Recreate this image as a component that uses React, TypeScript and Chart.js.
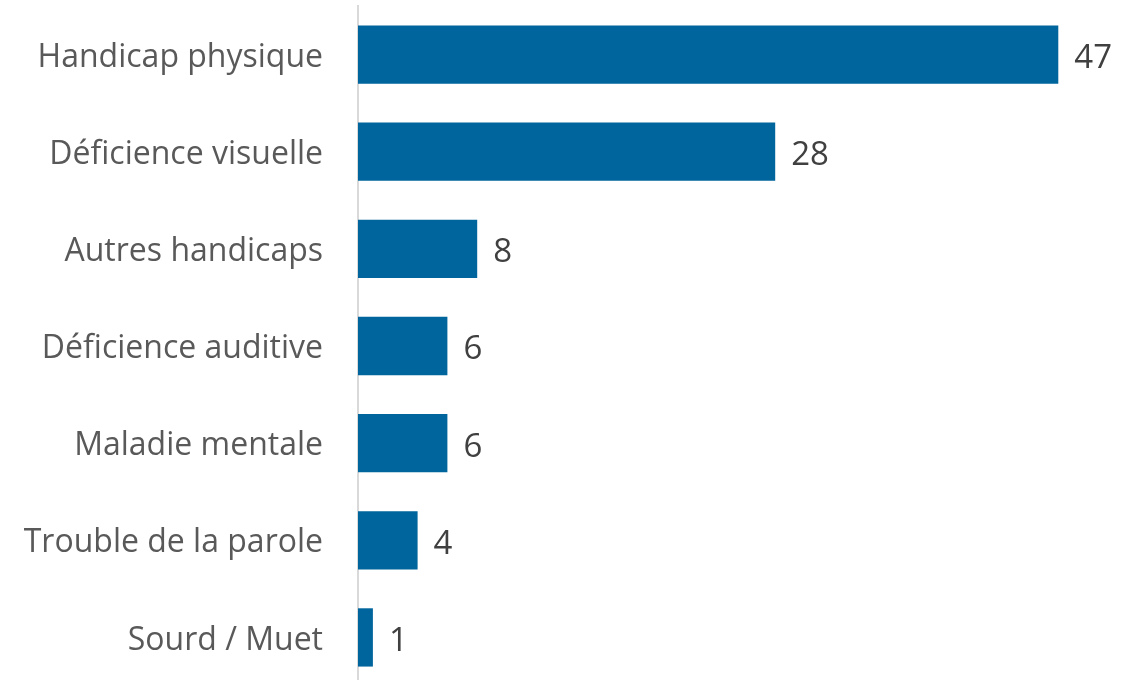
import React, { useEffect, useRef } from "react";
import { Chart, registerables } from "chart.js";

Chart.register(...registerables);

const categories = [
  "Handicap physique",
  "Déficience visuelle",
  "Autres handicaps",
  "Déficience auditive",
  "Maladie mentale",
  "Trouble de la parole",
  "Sourd / Muet",
];
const values = [47, 28, 8, 6, 6, 4, 1];

const FONT = "'Open Sans', sans-serif";

const labelPlugin = {
  id: "barLabels",
  afterDatasetsDraw(chart: any) {
    const ctx = chart.ctx;
    const meta = chart.getDatasetMeta(0);
    ctx.save();
    ctx.font = `33px ${FONT}`;
    ctx.fillStyle = "#404040";
    ctx.textAlign = "left";
    ctx.textBaseline = "middle";
    meta.data.forEach((bar: any, i: number) => {
      ctx.fillText(String(values[i]), bar.x + 16, bar.y + 4);
    });
    ctx.restore();
  },
};

export default function App() {
  const ref = useRef<HTMLCanvasElement>(null);
  useEffect(() => {
    document.body.style.overflow = "hidden";
    const chart = new Chart(ref.current!, {
      type: "bar",
      data: {
        labels: categories,
        datasets: [
          {
            data: values,
            backgroundColor: "#00659C",
            barPercentage: 0.6,
            categoryPercentage: 1,
          },
        ],
      },
      options: {
        indexAxis: "y",
        animation: false,
        responsive: true,
        maintainAspectRatio: false,
        layout: { padding: { top: 6, bottom: 4, left: 0, right: 24 } },
        plugins: { legend: { display: false }, tooltip: { enabled: false } },
        scales: {
          x: { display: false, min: 0, max: 50 },
          y: {
            afterFit(scale: any) {
              scale.width = 358;
              scale.paddingTop = 0;
              scale.paddingBottom = 0;
            },
            grid: { display: false, drawTicks: false },
            border: { display: true, color: "#D9D9D9", width: 2 },
            ticks: {
              color: "#595959",
              font: { family: FONT, size: 32 },
              padding: 35,
              labelOffset: 3,
            },
          },
        },
      },
      plugins: [labelPlugin],
    });
    return () => chart.destroy();
  }, []);
  return (
    <div style={{ position: "fixed", left: 0, top: 0, width: 1127, height: 690 }}>
      <canvas ref={ref} />
    </div>
  );
}
